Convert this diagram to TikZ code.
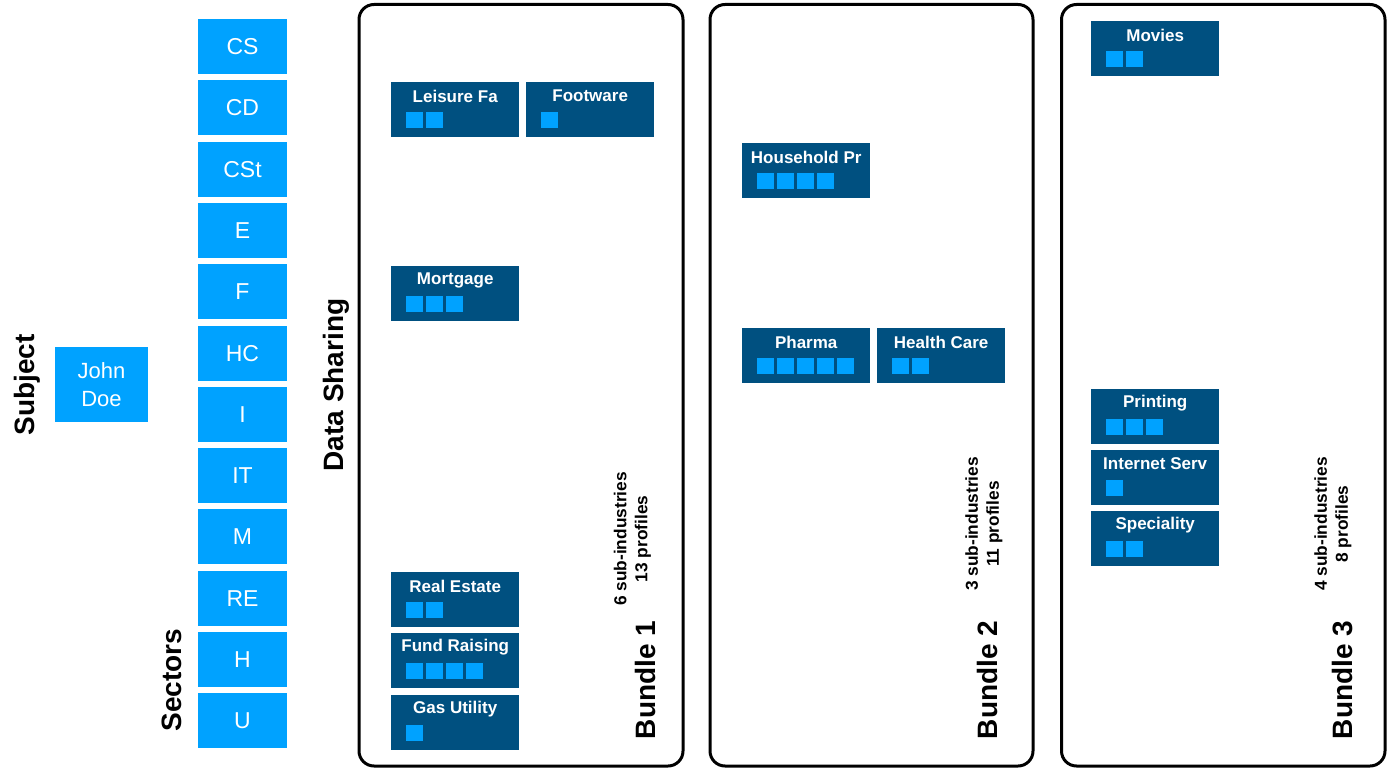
\documentclass[tikz,border=0pt]{standalone}
\usepackage{fontspec}
\setmainfont{Liberation Sans}
\definecolor{lightb}{RGB}{0,162,255}
\definecolor{darkb}{RGB}{0,80,128}
\tikzset{
  sector/.style={fill=lightb, draw=none, minimum width=89pt, minimum height=55pt, inner sep=0pt, text=white, font=\fontsize{23}{26}\selectfont},
  itembox/.style={fill=darkb, draw=none, minimum width=128pt, minimum height=55pt, inner sep=0pt},
  itemtitle/.style={text=white, font=\bfseries\fontsize{17}{19}\selectfont, inner sep=0pt},
  sq/.style={fill=lightb, draw=none, minimum width=17pt, minimum height=16pt, inner sep=0pt},
  bundlebox/.style={draw=black, line width=3pt, rounded corners=15pt},
  biglabel/.style={rotate=90, font=\bfseries\fontsize{28}{30}\selectfont, inner sep=0pt},
  countlabel/.style={rotate=90, align=center, font=\bfseries\fontsize{17.3}{21}\selectfont, inner sep=0pt},
}
\newcommand{\subind}[5]{%
  \node[itembox, anchor=north west] (#1) at (#2,#3) {};
  \node[itemtitle] (#1t) at ([yshift=-14pt]#1.north) {#4};
  \foreach \k [evaluate=\k as \dx using 15+20*(\k-1)] in {1,...,#5} {
    \node[sq, anchor=north west] (#1s\k) at ([xshift=\dx pt, yshift=-30pt]#1.north west) {};
  }
}
\begin{document}
\begin{tikzpicture}[x=1pt, y=-1pt]
\useasboundingbox (0,0) rectangle (1390,768);
% left labels
\node[biglabel] (subj) at (27,385) {Subject};
\node[sector, minimum width=93pt, minimum height=75pt, align=center, font=\fontsize{22}{28}\selectfont] (john) at (101.5,384.5) {John\\Doe};
\node[biglabel] (sect) at (172,680) {Sectors};
\node[biglabel] (data) at (336,385) {Data Sharing};
% sectors
\foreach \n/\t/\lab in {cs/19/CS, cd/80/CD, cst/142/CSt, e/203/E, f/264/F, hc/326/HC, i/387/I, it/448/IT, m/509/M, re/571/RE, h/632/H, u/693/U} {
  \node[sector, anchor=north] (\n) at (242.5,\t) {\lab};
}
% bundles
\draw[bundlebox] (359,4.5) rectangle (683,766);
\draw[bundlebox] (710,4.5) rectangle (1033,766);
\draw[bundlebox] (1061.5,4.5) rectangle (1385,766);
% bundle 1
\subind{leis}{391}{82}{Leisure Fa}{2}
\subind{foot}{526}{82}{Footware}{1}
\subind{mort}{391}{266}{Mortgage}{3}
\subind{real}{391}{572}{Real Estate}{2}
\subind{fund}{391}{633}{Fund Raising}{4}
\subind{gas}{391}{695}{Gas Utility}{1}
\node[biglabel] (b1) at (645,680) {Bundle 1};
\node[countlabel] (c1) at (632.5,539) {6 sub-industries\\13 profiles};
% bundle 2
\subind{hous}{742}{143}{Household Pr}{4}
\subind{phar}{742}{328}{Pharma}{5}
\subind{heal}{877}{328}{Health Care}{2}
\node[biglabel] (b2) at (987,680) {Bundle 2};
\node[countlabel] (c2) at (984,524) {3 sub-industries\\11 profiles};
% bundle 3
\subind{movi}{1091}{21}{Movies}{2}
\subind{prin}{1091}{389}{Printing}{3}
\subind{inte}{1091}{450}{Internet Serv}{1}
\subind{spec}{1091}{511}{Speciality}{2}
\node[biglabel] (b3) at (1342,680) {Bundle 3};
\node[countlabel] (c3) at (1333,524) {4 sub-industries\\8 profiles};
\end{tikzpicture}
\end{document}
